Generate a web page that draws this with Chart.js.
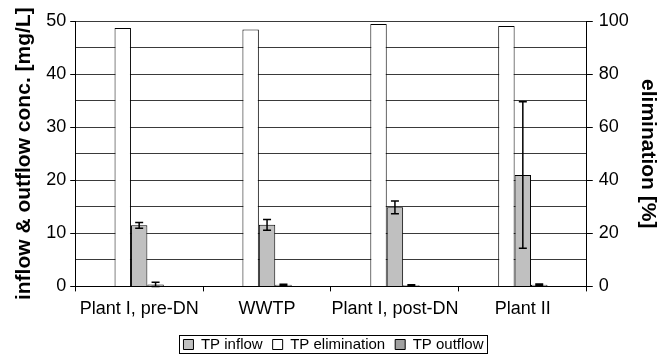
<!DOCTYPE html>
<html>
<head>
<meta charset="utf-8">
<script src="https://cdn.jsdelivr.net/npm/chart.js@4.4.1/dist/chart.umd.min.js"></script>
<style>
  body { margin: 0; background: #fff; }
  #wrap { width: 660px; height: 356px; }
</style>
</head>
<body>
<div id="wrap"><canvas id="tpChart"></canvas></div>
<script>
var plants = ["Plant I, pre-DN", "WWTP", "Plant I, post-DN", "Plant II"];
var elimination = [97.4, 96.8, 98.9, 98.1];
var inflow = [11.5, 11.6, 14.9, 21.0];
var inflowErr = [0.55, 1.0, 1.2, 13.8];
var outflow = [0.35, 0.3, 0.2, 0.3];
var outflowErr = [0.45, 0.1, 0.1, 0.15];
var legendOrder = ["TP inflow", "TP elimination", "TP outflow"];

var fontFam = "'Liberation Sans', Arial, sans-serif";

// error bars drawn from the dataset's own scale
var errorBars = {
  id: 'errorBars',
  afterDatasetsDraw: function(chart) {
    var ctx = chart.ctx;
    chart.data.datasets.forEach(function(ds, i) {
      if (!ds.errors) return;
      var meta = chart.getDatasetMeta(i);
      var sc = chart.scales[ds.yAxisID];
      ctx.save();
      ctx.strokeStyle = '#000';
      ctx.lineWidth = 1.5;
      meta.data.forEach(function(bar, j) {
        var v = ds.data[j], e = ds.errors[j];
        var yt = sc.getPixelForValue(v + e);
        var yb = sc.getPixelForValue(Math.max(v - e, 0));
        ctx.beginPath();
        ctx.moveTo(bar.x, yt); ctx.lineTo(bar.x, yb);
        ctx.moveTo(bar.x - 4, yt); ctx.lineTo(bar.x + 4, yt);
        ctx.moveTo(bar.x - 4, yb); ctx.lineTo(bar.x + 4, yb);
        ctx.stroke();
      });
      ctx.restore();
    });
  }
};

// box round the legend
var legendFrame = {
  id: 'legendFrame',
  afterDraw: function(chart) {
    var boxes = chart.legend.legendHitBoxes;
    if (!boxes || !boxes.length) return;
    var l = boxes[0].left, r = 0, t = boxes[0].top, b = 0;
    boxes.forEach(function(h) {
      l = Math.min(l, h.left); r = Math.max(r, h.left + h.width);
      t = Math.min(t, h.top); b = Math.max(b, h.top + h.height);
    });
    var ctx = chart.ctx;
    ctx.save();
    ctx.strokeStyle = '#000';
    ctx.lineWidth = 1;
    ctx.strokeRect(Math.round(l - 4) + 0.5, Math.round(t - 2) + 0.5, Math.round(r - l + 8), Math.round(b - t + 3));
    ctx.restore();
  }
};

var ctx = document.getElementById("tpChart").getContext('2d');
var tpChart = new Chart(ctx, {
  type: 'bar',
  data: {
    labels: plants,
    datasets: [{
      label: "TP elimination",
      data: elimination,
      yAxisID: 'y1',
      backgroundColor: "#ffffff",
      borderColor: "#000",
      borderWidth: 1
    }, {
      label: "TP inflow",
      data: inflow,
      errors: inflowErr,
      yAxisID: 'y',
      backgroundColor: "#c0c0c0",
      borderColor: "#000",
      borderWidth: 1
    }, {
      label: "TP outflow",
      data: outflow,
      errors: outflowErr,
      yAxisID: 'y',
      backgroundColor: "#a0a0a0",
      borderColor: "#000",
      borderWidth: 1
    }]
  },
  options: {
    responsive: true,
    maintainAspectRatio: false,
    animation: false,
    categoryPercentage: 0.385,
    barPercentage: 1.0,
    layout: { padding: { left: 7, right: 0, top: 21, bottom: -6 } },
    plugins: {
      tooltip: { enabled: false },
      legend: {
        position: 'bottom',
        labels: {
          color: '#000',
          font: { family: fontFam, size: 15 },
          boxWidth: 10,
          boxHeight: 10,
          padding: 10,
          sort: function(a, b) {
            return legendOrder.indexOf(a.text) - legendOrder.indexOf(b.text);
          }
        }
      }
    },
    scales: {
      x: {
        grid: { offset: true, drawOnChartArea: false, color: '#000', tickLength: 5 },
        border: { color: '#000' },
        ticks: { color: '#000', font: { family: fontFam, size: 18 }, padding: 7, maxRotation: 0, autoSkip: false }
      },
      y: {
        position: 'left',
        min: 0, max: 50,
        ticks: {
          stepSize: 5,
          color: '#000',
          font: { family: fontFam, size: 18 },
          padding: 4,
          callback: function(v) { return v % 10 === 0 ? v : ''; }
        },
        grid: {
          color: '#3a3a3a',
          tickLength: 5,
          tickColor: function(c) { return c.tick && c.tick.value % 10 === 0 ? '#000' : 'rgba(0,0,0,0)'; }
        },
        border: { color: '#000' },
        title: {
          display: true,
          text: 'inflow & outflow conc. [mg/L]',
          color: '#000',
          font: { family: fontFam, size: 21, weight: 'bold' },
          padding: 5
        }
      },
      y1: {
        position: 'right',
        min: 0, max: 100,
        ticks: { stepSize: 20, color: '#000', font: { family: fontFam, size: 18 }, padding: 6 },
        grid: { drawOnChartArea: false, color: '#000', tickLength: 6 },
        border: { color: '#000' },
        title: {
          display: true,
          text: 'elimination [%]',
          color: '#000',
          font: { family: fontFam, size: 21, weight: 'bold' },
          padding: 0
        }
      }
    }
  },
  plugins: [errorBars, legendFrame]
});
</script>
</body>
</html>
